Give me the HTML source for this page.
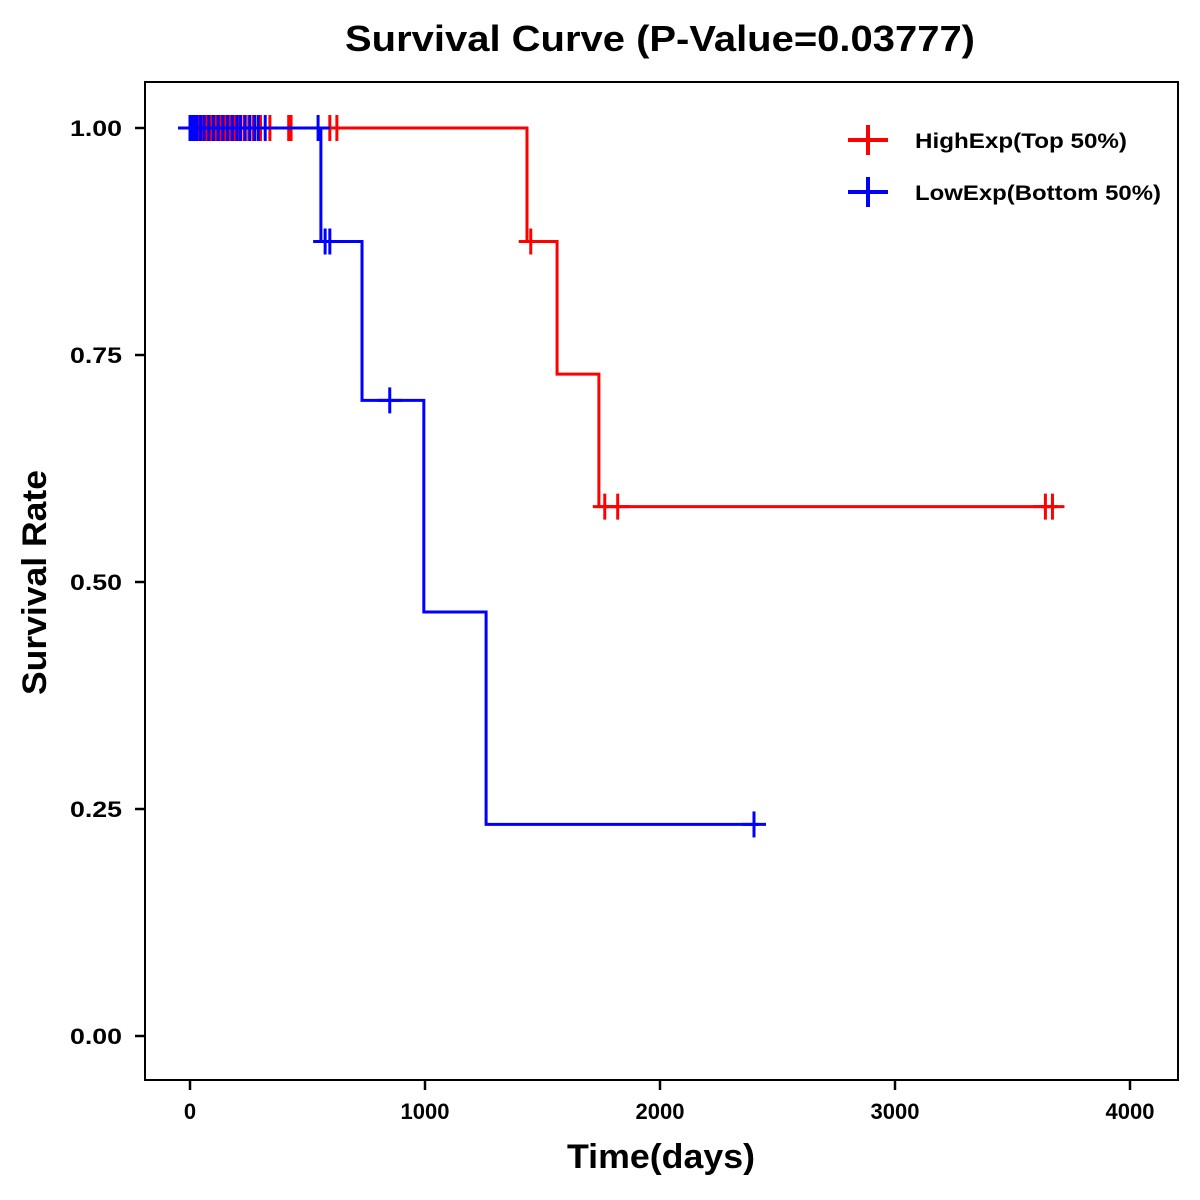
<!DOCTYPE html>
<html><head><meta charset="utf-8"><style>
html,body{margin:0;padding:0;background:#fff;}
svg{display:block;font-family:"Liberation Sans",Arial,sans-serif;}
</style></head><body>
<svg id="c" width="1200" height="1200">
<rect x="0" y="0" width="1200" height="1200" fill="#fff"/>
<text x="345" y="51" font-size="36" font-weight="bold" textLength="630" lengthAdjust="spacingAndGlyphs">Survival Curve (P-Value=0.03777)</text>
<rect x="145" y="82" width="1033" height="998" fill="none" stroke="#000" stroke-width="2"/>
<g id="axes"></g>
<g id="series"></g>
<text x="567" y="1168" font-size="34" font-weight="bold" textLength="188" lengthAdjust="spacingAndGlyphs">Time(days)</text>
<text transform="translate(46,695) rotate(-90)" font-size="34" font-weight="bold" textLength="225" lengthAdjust="spacingAndGlyphs">Survival Rate</text>
<g>
<g>
<line x1="848" y1="140" x2="888" y2="140" stroke="#f00" stroke-width="4"/><line x1="868" y1="125" x2="868" y2="155" stroke="#f00" stroke-width="4"/>
<text x="915" y="148" font-size="21" font-weight="bold" textLength="212" lengthAdjust="spacingAndGlyphs">HighExp(Top 50%)</text></g>
<g>
<line x1="848" y1="192" x2="888" y2="192" stroke="#00f" stroke-width="4"/><line x1="868" y1="177" x2="868" y2="207" stroke="#00f" stroke-width="4"/>
<text x="915" y="200" font-size="21" font-weight="bold" textLength="246" lengthAdjust="spacingAndGlyphs">LowExp(Bottom 50%)</text></g>
</g>
</svg>
<script>
const xTicks=[0,1000,2000,3000,4000];
const yTicks=[0,0.25,0.5,0.75,1];
const yTickLabels=["0.00","0.25","0.50","0.75","1.00"];
const highTimes=[0,1434,1562,1740,3680];
const highSurv=[1,0.875,0.729,0.583,0.583];
const highCensor=[5,15,25,40,55,70,90,110,130,150,170,190,210,230,250,270,300,340,420,430,595,625,1450,1765,1820,3640,3670];
const lowTimes=[-50,557,732,995,1260,2420];
const lowSurv=[1,0.875,0.7,0.467,0.233,0.233];
const lowCensor=[0,10,20,30,45,60,80,100,120,140,160,180,200,215,235,255,275,290,320,545,575,595,850,2400];
const X=d=>190+d*0.235;
const Y=v=>1036-v*908;
const NS="http://www.w3.org/2000/svg";
const axes=document.getElementById('axes');
const ser=document.getElementById('series');
function mk(tag,attrs,parent){const e=document.createElementNS(NS,tag);for(const k in attrs)e.setAttribute(k,attrs[k]);parent.appendChild(e);return e;}
xTicks.forEach(t=>{
  const l=mk('line',{x1:X(t),x2:X(t),y1:1080,y2:1090,stroke:'#000','stroke-width':2.5},axes);
  
  
  const tx=mk('text',{x:X(t),y:1119,'text-anchor':'middle','font-size':22,'font-weight':'bold'},axes);
  tx.textContent=t;
  
  
});
yTicks.forEach((t,i)=>{
  const l=mk('line',{x1:135,x2:145,y1:Y(t),y2:Y(t),stroke:'#000','stroke-width':2.5},axes);
  
  
  const tx=mk('text',{x:70,y:Y(t)+8,'font-size':22,'font-weight':'bold',textLength:52,lengthAdjust:'spacingAndGlyphs'},axes);
  tx.textContent=yTickLabels[i];
  
  
});
function survAt(times,surv,t){let s=surv[0];for(let i=0;i<times.length;i++){if(times[i]<=t)s=surv[i];}return s;}
function draw(times,surv,cens,color,name){
  let d='M'+X(times[0])+','+Y(surv[0]);
  for(let i=1;i<times.length;i++){d+=' H'+X(times[i])+' V'+Y(surv[i]);}
  const p=mk('path',{d:d,fill:'none',stroke:color,'stroke-width':3},ser);
  
  
  cens.forEach(c=>{
    const s=survAt(times,surv,c);
    const g=mk('g',{},ser);
    
    
    mk('line',{x1:X(c)-12,x2:X(c)+12,y1:Y(s),y2:Y(s),stroke:color,'stroke-width':3},g);
    mk('line',{x1:X(c),x2:X(c),y1:Y(s)-13,y2:Y(s)+13,stroke:color,'stroke-width':3},g);
  });
}
draw(highTimes,highSurv,highCensor,'#f00','high-exp');
draw(lowTimes,lowSurv,lowCensor,'#00f','low-exp');
</script>
</body></html>
